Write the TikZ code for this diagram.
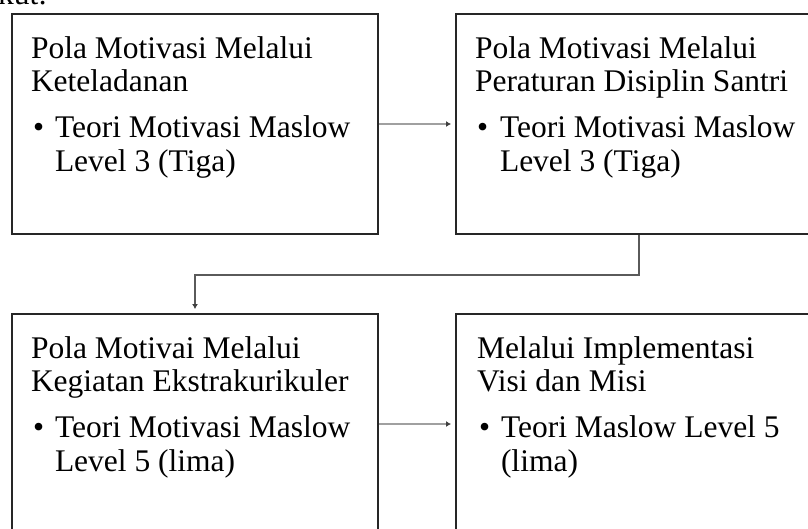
\documentclass[tikz,border=0pt]{standalone}
\usepackage{fontspec}
\setmainfont{Liberation Serif}
\usetikzlibrary{calc,arrows.meta}
\definecolor{boxline}{HTML}{262626}
\definecolor{arrgray}{HTML}{A0A0A0}
\definecolor{elbowgray}{HTML}{5A5A5A}
\tikzset{
  stagebox/.style={draw=boxline, line width=2pt, fill=white, rectangle, inner sep=0pt,
    minimum width=366pt, minimum height=220pt, anchor=north west},
  txt/.style={anchor=base west, inner sep=0pt, outer sep=0pt,
    font=\fontsize{31.5}{33.5}\selectfont, text=black},
  flowarrow/.style={draw=arrgray, line width=2pt, shorten >=4pt,
    -{Latex[length=5pt,width=6pt,color=black!75]}},
  elbowarrow/.style={draw=elbowgray, line width=1.3pt, shorten >=4pt,
    -{Latex[length=5pt,width=6pt,color=black!75]}}
}
\newcommand{\fillstagebox}[7]{%
  \node[txt] (#1-l1) at ($(#1.north west)+(#6,45)$) {#2};
  \node[txt] (#1-l2) at ($(#1.north west)+(#6,78.5)$) {#3};
  \node[txt] (#1-bu) at ($(#1.north west)+(#6+2,124)$) {\textbullet};
  \node[txt] (#1-l3) at ($(#1.north west)+(#7,124)$) {#4};
  \node[txt] (#1-l4) at ($(#1.north west)+(#7,158)$) {#5};
}
\begin{document}
\begin{tikzpicture}[x=1pt,y=-1pt]
  \useasboundingbox (0,0) rectangle (808,528);
  \clip (0,0) rectangle (808,528);
  \fill[white] (0,0) rectangle (808,528);

  \node[txt, anchor=base east] (intro) at (47,4) {berikut:};

  \node[stagebox] (b1) at (11,13) {};
  \node[stagebox] (b2) at (455,13) {};
  \node[stagebox] (b3) at (11,313) {};
  \node[stagebox] (b4) at (455,313) {};

  \fillstagebox{b1}{Pola Motivasi Melalui}{Keteladanan}{Teori Motivasi Maslow}{Level 3 (Tiga)}{20}{44}
  \fillstagebox{b2}{Pola Motivasi Melalui}{Peraturan Disiplin Santri}{Teori Motivasi Maslow}{Level 3 (Tiga)}{20}{45}
  \fillstagebox{b3}{Pola Motivai Melalui}{Kegiatan Ekstrakurikuler}{Teori Motivasi Maslow}{Level 5 (lima)}{20}{44}
  \fillstagebox{b4}{Melalui Implementasi}{Visi dan Misi}{Teori Maslow Level 5}{(lima)}{22}{46}

  \draw[flowarrow] (b1.east) -- (b2.west);
  \draw[elbowarrow] (b2.south) -- ++(0,40) -| (b3.north);
  \draw[flowarrow] (b3.east) -- (b4.west);
\end{tikzpicture}
\end{document}
